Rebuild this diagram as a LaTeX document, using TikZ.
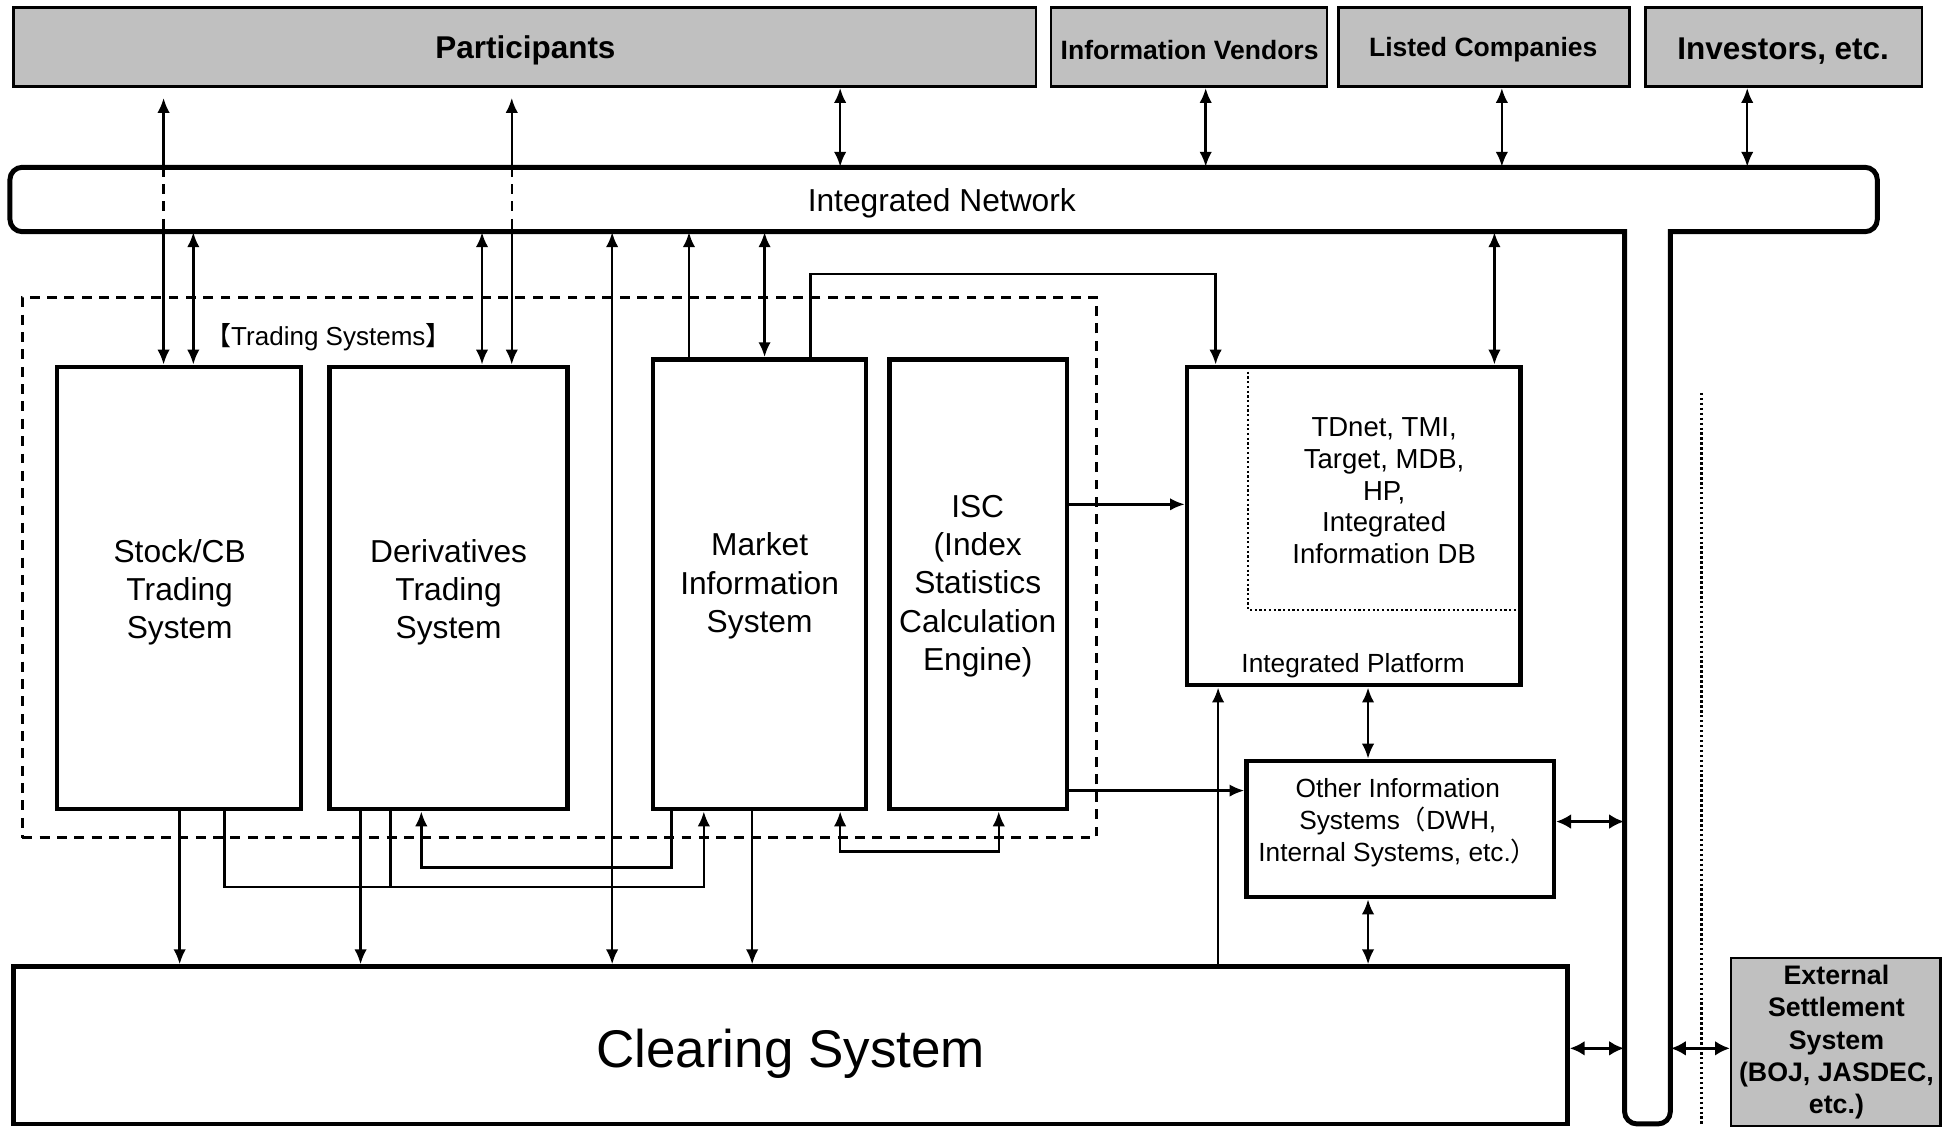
\documentclass[tikz,border=0pt]{standalone}
\usepackage{fontspec}
\setmainfont{Liberation Sans}
\newfontfamily\cjk{Noto Sans CJK JP}
\usetikzlibrary{arrows.meta,fit,calc}
\definecolor{boxgray}{RGB}{192,192,192}
\newcommand\fBig{\fontsize{12.7pt}{15pt}\selectfont\bfseries}
\newcommand\fMid{\fontsize{10.7pt}{13pt}\selectfont\bfseries}
\newcommand\fNet{\fontsize{12.8pt}{15pt}\selectfont}
\newcommand\fTrade{\fontsize{12.8pt}{15.5pt}\selectfont}
\newcommand\fPlat{\fontsize{11.1pt}{12.85pt}\selectfont}
\newcommand\fSmall{\fontsize{10.6pt}{13pt}\selectfont}
\newcommand\fLabel{\fontsize{10.5pt}{12pt}\selectfont}
\newcommand\fClear{\fontsize{21.4pt}{25pt}\selectfont}
\newcommand\fExt{\fontsize{10.8pt}{13pt}\selectfont\bfseries}
\tikzset{
  box/.style={draw,line width=1.8pt,inner sep=0pt},
  gbox/.style={draw,line width=1pt,fill=boxgray,inner sep=0pt},
  conn/.style={line width=1pt},
  wconn/.style={line width=1.4pt},
  toarr/.style={-{Latex[length=6pt,width=5pt]}},
  fromarr/.style={{Latex[length=6pt,width=5pt]}-},
  botharr/.style={{Latex[length=6pt,width=5pt]}-{Latex[length=6pt,width=5pt]}},
  wboth/.style={{Latex[length=6pt,width=6pt]}-{Latex[length=6pt,width=6pt]}},
  netline/.style={line width=2pt,rounded corners=5pt},
  dsh/.style={line width=1pt,dash pattern=on 4pt off 3pt},
}
\begin{document}
\begin{tikzpicture}[x=0.5pt,y=-0.5pt]
\useasboundingbox (0,0) rectangle (1568,909);

% top boxes
\node[gbox, fit={(11,6) (836,70)}] (part) {};
\node[gbox, fit={(848,6) (1071,70)}] (vend) {};
\node[gbox, fit={(1080,6) (1315,70)}] (list) {};
\node[gbox, fit={(1328,6) (1551,70)}] (inv) {};
\node[font=\fBig] (parttext) at (424,41) {Participants};
\node[font=\fMid] (vendtext) at (960,40) {Information Vendors};
\node[font=\fMid] (listtext) at (1197,40) {Listed Companies};
\node[font=\fBig] (invtext) at (1439,41) {Investors, etc.};

% integrated network (T shape)
\node[fit={(8,135) (1515,187)}, inner sep=0pt] (net) {};
\node[fit={(1311,187) (1348,907)}, inner sep=0pt] (stem) {};
\draw[netline] (8,135) rectangle (1515,187);
\fill[white] (1313,184) rectangle (1346,191);
\draw[netline] (1311,185) -- (1311,907) -- (1348,907) -- (1348,185);
\node[font=\fNet] (nettext) at (760,164) {Integrated Network};

% trading systems group
\node[dsh, draw, fit={(18,240) (885,676)}, inner sep=0pt] (tsys) {};
\node[font=\fLabel] (tlabel) at (265,272) {{\cjk 【}Trading Systems{\cjk 】}};

\node[box, fit={(46,296) (243,653)}] (stock) {};
\node[box, fit={(266,296) (458,653)}] (deriv) {};
\node[box, fit={(527,290) (699,653)}] (mis) {};
\node[box, fit={(718,290) (861,653)}] (isc) {};
\node[font=\fTrade, align=center] (stocktext) at (145,478) {Stock/CB\\Trading\\System};
\node[font=\fTrade, align=center] (derivtext) at (362,478) {Derivatives\\Trading\\System};
\node[font=\fTrade, align=center] (mistext) at (613,473) {Market\\Information\\System};
\node[font=\fTrade, align=center] (isctext) at (789,473) {ISC\\(Index\\Statistics\\Calculation\\Engine)};

% integrated platform
\node[box, fit={(958,296) (1227,553)}] (plat) {};
\draw[line width=0.9pt, densely dotted] (1007,300) -- (1007,492) -- (1223,492);
\node[font=\fPlat, align=center] (plattext) at (1117,396) {TDnet, TMI,\\Target, MDB,\\HP,\\Integrated\\Information DB};
\node[font=\fSmall] (platlabel) at (1092,537) {Integrated Platform};

% other information systems
\node[box, fit={(1006,614) (1254,724)}] (other) {};
\node[font=\fSmall, align=center] (othertext) at (1128,664) {Other Information\\Systems{\cjk （}DWH,\\Internal Systems, etc.{\cjk ）}};

% clearing system
\node[box, fit={(11,780) (1265,907)}] (clr) {};
\node[font=\fClear] (clrtext) at (638,850) {Clearing System};

% external settlement
\draw[line width=1pt, densely dotted] (1373,317) -- (1373,909);
\node[gbox, fit={(1397,773) (1566,909)}] (ext) {};
\node[font=\fExt, align=center] (exttext) at (1482,841) {External\\Settlement\\System\\(BOJ, JASDEC,\\etc.)};

% top box <-> network
\draw[conn,botharr] (678,0 |- part.south) -- (678,0 |- net.north);
\draw[conn,botharr] (973,0 |- vend.south) -- (973,0 |- net.north);
\draw[conn,botharr] (1212,0 |- list.south) -- (1212,0 |- net.north);
\draw[conn,botharr] (1410,0 |- inv.south) -- (1410,0 |- net.north);

% participants -> trading systems (through network)
\draw[conn,fromarr] ($(132,0 |- part.south)+(0,8)$) -- (132,0 |- net.north);
\draw[conn,dash pattern=on 4pt off 3pt] (132,0 |- net.north) -- (132,0 |- net.south);
\draw[conn,toarr] (132,0 |- net.south) -- (132,0 |- stock.north);
\draw[conn,fromarr] ($(413,0 |- part.south)+(0,8)$) -- (413,0 |- net.north);
\draw[conn,dash pattern=on 4pt off 3pt] (413,0 |- net.north) -- (413,0 |- net.south);
\draw[conn,toarr] (413,0 |- net.south) -- (413,0 |- deriv.north);

% network <-> systems
\draw[conn,botharr] (156,0 |- net.south) -- (156,0 |- stock.north);
\draw[conn,botharr] (389,0 |- net.south) -- (389,0 |- deriv.north);
\draw[conn,botharr] (494,0 |- net.south) -- (494,0 |- clr.north);
\draw[conn,toarr] (556,0 |- mis.north) -- (556,0 |- net.south);
\draw[conn,botharr] (617,0 |- net.south) -- (617,0 |- mis.north);
\draw[conn,toarr] (654,0 |- mis.north) |- (981,221) -- (981,0 |- plat.north);
\draw[conn,botharr] (1206,0 |- net.south) -- (1206,0 |- plat.north);

% trading systems -> clearing
\draw[conn,toarr] (145,0 |- stock.south) -- (145,0 |- clr.north);
\draw[conn,toarr] (291,0 |- deriv.south) -- (291,0 |- clr.north);
\draw[conn,toarr] (607,0 |- mis.south) -- (607,0 |- clr.north);

% interconnections below trading systems
\draw[conn,toarr] (181,0 |- stock.south) |- (568,716) -- (568,0 |- mis.south);
\draw[conn] (315,0 |- deriv.south) -- (315,716);
\draw[conn,fromarr] (340,0 |- deriv.south) |- (542,700) -- (542,0 |- mis.south);
\draw[conn,botharr] (678,0 |- mis.south) |- (806,687) -- (806,0 |- isc.south);

% right side
\draw[conn,toarr] (isc.east |- 0,407) -- (plat.west |- 0,407);
\draw[conn,toarr] (isc.east |- 0,638) -- (other.west |- 0,638);
\draw[conn,toarr] (983,0 |- clr.north) -- (983,0 |- plat.south);
\draw[conn,botharr] (1104,0 |- plat.south) -- (1104,0 |- other.north);
\draw[conn,botharr] (1104,0 |- other.south) -- (1104,0 |- clr.north);
\draw[wconn,wboth] (other.east |- 0,663) -- (stem.west |- 0,663);
\draw[wconn,wboth] (clr.east |- 0,846) -- (stem.west |- 0,846);
\draw[wconn,wboth] (stem.east |- 0,846) -- (ext.west |- 0,846);
\end{tikzpicture}
\end{document}
